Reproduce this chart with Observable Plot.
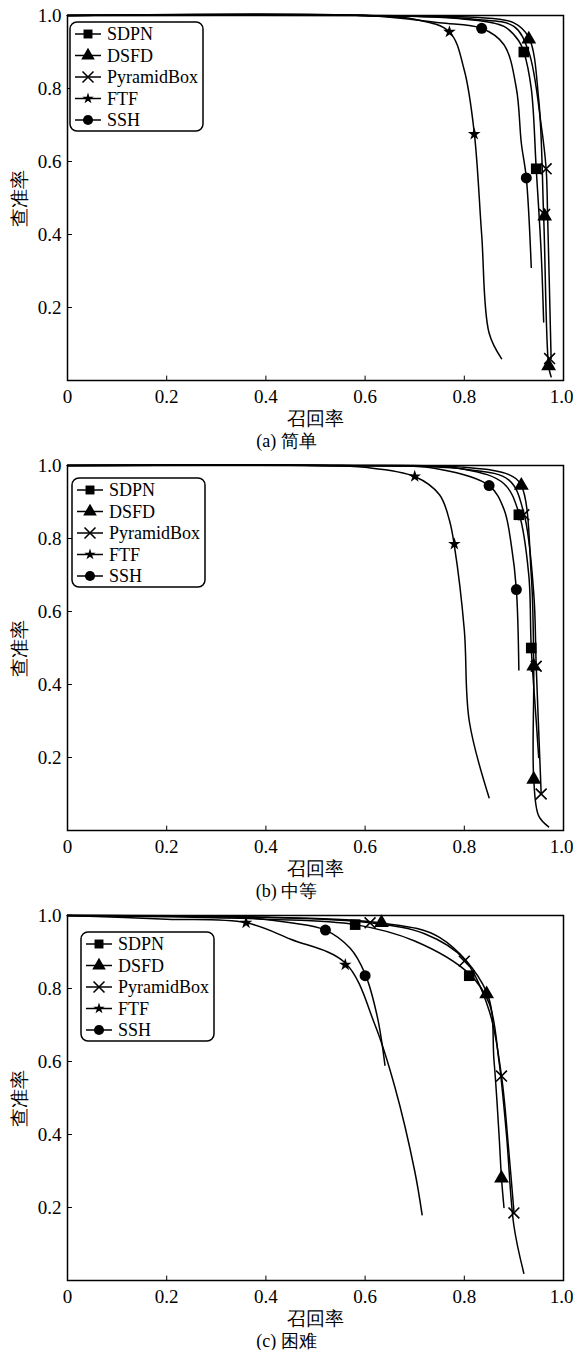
<!DOCTYPE html>
<html><head><meta charset="utf-8">
<script src="https://cdn.jsdelivr.net/npm/d3@7"></script>
<script src="https://cdn.jsdelivr.net/npm/@observablehq/plot@0.6"></script>
<style>
body{margin:0;background:#fff;font-family:"Liberation Serif",serif;}
.cap{text-align:center;font-size:18px;height:18px;line-height:18px;font-family:"Liberation Serif",serif;}
</style></head><body><div id="chart"></div>
<script>
const series = ["SDPN", "DSFD", "PyramidBox", "FTF", "SSH"];
const symbols = ["square", "triangle", "times", "star", "circle"];
const xTicks = [0, 0.2, 0.4, 0.6, 0.8, 1.0];
const yTicks = [0.2, 0.4, 0.6, 0.8, 1.0];
const captions = ["(a) 简单", "(b) 中等", "(c) 困难"];

// curves: [recall, precision]
const easySDPN = [[0,1],[0.6,1],[0.8,0.99],[0.88,0.97],[0.91,0.93],[0.92,0.9],[0.935,0.8],[0.945,0.58],[0.955,0.35],[0.96,0.16]];
const easyDSFD = [[0,1],[0.6,1],[0.82,0.995],[0.9,0.98],[0.93,0.94],[0.95,0.77],[0.96,0.45],[0.97,0.04],[0.975,0.01]];
const easyPyr  = [[0,1],[0.6,1],[0.82,0.99],[0.9,0.97],[0.93,0.9],[0.955,0.7],[0.965,0.58],[0.968,0.45],[0.975,0.06]];
const easyFTF  = [[0,1],[0.6,1],[0.7,0.99],[0.77,0.955],[0.8,0.85],[0.82,0.68],[0.835,0.4],[0.85,0.13],[0.875,0.06]];
const easySSH  = [[0,1],[0.6,1],[0.75,0.98],[0.835,0.965],[0.88,0.92],[0.905,0.8],[0.915,0.65],[0.925,0.555],[0.935,0.31]];
const easyMarks = [[[0.92,0.9],[0.945,0.58]],[[0.93,0.935],[0.962,0.45],[0.97,0.04]],[[0.965,0.58],[0.962,0.455],[0.972,0.06]],[[0.77,0.955],[0.82,0.675]],[[0.835,0.965],[0.925,0.555]]];

const medSDPN = [[0,1],[0.55,1],[0.8,0.99],[0.88,0.95],[0.91,0.87],[0.93,0.7],[0.935,0.5],[0.945,0.3],[0.95,0.2]];
const medDSFD = [[0,1],[0.55,1],[0.8,0.995],[0.89,0.975],[0.915,0.945],[0.935,0.7],[0.94,0.45],[0.94,0.14],[0.95,0.04],[0.97,0.01]];
const medPyr  = [[0,1],[0.55,1],[0.8,0.99],[0.89,0.96],[0.92,0.87],[0.94,0.65],[0.945,0.45],[0.955,0.1]];
const medFTF  = [[0,1],[0.5,1],[0.6,0.995],[0.7,0.97],[0.75,0.92],[0.77,0.85],[0.78,0.78],[0.8,0.55],[0.81,0.3],[0.85,0.09]];
const medSSH  = [[0,1],[0.55,1],[0.75,0.99],[0.85,0.945],[0.88,0.88],[0.895,0.78],[0.905,0.66],[0.91,0.44]];
const medMarks = [[[0.91,0.865],[0.935,0.5]],[[0.915,0.945],[0.94,0.45],[0.94,0.14]],[[0.92,0.865],[0.945,0.45],[0.955,0.1]],[[0.7,0.97],[0.78,0.785]],[[0.85,0.945],[0.905,0.66]]];

const hardSDPN = [[0,1],[0.4,0.99],[0.58,0.975],[0.7,0.93],[0.81,0.84],[0.85,0.76],[0.87,0.6],[0.885,0.4],[0.9,0.15],[0.92,0.02]];
const hardDSFD = [[0,1],[0.4,0.995],[0.63,0.98],[0.75,0.94],[0.845,0.79],[0.86,0.6],[0.87,0.4],[0.875,0.28],[0.88,0.2]];
const hardPyr  = [[0,1],[0.4,0.995],[0.61,0.98],[0.72,0.95],[0.8,0.88],[0.85,0.74],[0.875,0.56],[0.89,0.35],[0.9,0.19]];
const hardFTF  = [[0,1],[0.2,0.99],[0.36,0.98],[0.45,0.935],[0.56,0.87],[0.62,0.7],[0.66,0.53],[0.7,0.3],[0.715,0.18]];
const hardSSH  = [[0,1],[0.35,0.995],[0.45,0.98],[0.52,0.96],[0.57,0.91],[0.6,0.84],[0.625,0.72],[0.64,0.59]];
const hardMarks = [[[0.58,0.975],[0.81,0.835]],[[0.633,0.98],[0.845,0.785],[0.875,0.28]],[[0.61,0.98],[0.8,0.875],[0.875,0.56],[0.9,0.185]],[[0.36,0.98],[0.56,0.865]],[[0.52,0.96],[0.6,0.835]]];

const panels = [
  {curves: [easySDPN, easyDSFD, easyPyr, easyFTF, easySSH], marks: easyMarks, legend: [3, 7]},
  {curves: [medSDPN, medDSFD, medPyr, medFTF, medSSH], marks: medMarks, legend: [5, 13]},
  {curves: [hardSDPN, hardDSFD, hardPyr, hardFTF, hardSSH], marks: hardMarks, legend: [14, 17]}
];
const symSize = {square: 6, triangle: 5.5, times: 5, star: 4, circle: 5.5};
const serif = "Liberation Serif";

const root = d3.select("#chart");
panels.forEach((p, pi) => {
  const lines = p.curves.flatMap((c, i) => c.map(([x, y]) => ({x, y, s: series[i]})));
  const dotMarks = p.marks.map((m, i) => {
    const pts = m.map(([x, y]) => ({x, y}));
    return symbols[i] == "times"
      ? Plot.dot(pts, {x: "x", y: "y", symbol: "times", stroke: "#000", strokeWidth: 1.6, r: symSize.times})
      : Plot.dot(pts, {x: "x", y: "y", symbol: symbols[i], fill: "#000", r: symSize[symbols[i]]});
  });
  const chart = Plot.plot({
    width: 573, height: 432,
    marginTop: 15, marginBottom: 52, marginLeft: 67, marginRight: 10,
    x: {domain: [0, 1], axis: null},
    y: {domain: [0, 1], axis: null},
    marks: [
      Plot.line(lines, {x: "x", y: "y", z: "s", stroke: "#000", strokeWidth: 1.5, curve: "catmull-rom"}),
      ...dotMarks,
      Plot.ruleX(xTicks.slice(1, -1), {y1: 0, y2: 0.012, stroke: "#000"}),
      Plot.ruleY(yTicks.slice(0, -1), {x1: 0, x2: 0.01, stroke: "#000"}),
      Plot.text(xTicks.slice(0, -1), {x: d => d, y: 0, text: d => d == 0 ? "0" : d.toFixed(1), dy: 16,
        fontSize: 19, fontFamily: serif, fill: "#000"}),
      Plot.text(xTicks.slice(-1), {x: d => d, y: 0, text: d => d.toFixed(1), dy: 16, dx: 10, textAnchor: "end",
        fontSize: 19, fontFamily: serif, fill: "#000"}),
      Plot.text(yTicks, {x: 0, y: d => d, text: d => d.toFixed(1), dx: -6, textAnchor: "end",
        fontSize: 19, fontFamily: serif, fill: "#000"}),
      Plot.text(["召回率"], {x: 0.5, y: 0, dy: 38, fontSize: 19, fontFamily: serif, fill: "#000"}),
      Plot.text(["查准率"], {x: 0, y: 0.5, dx: -48, rotate: -90, fontSize: 19, fontFamily: serif, fill: "#000"}),
      Plot.frame({stroke: "#000", strokeWidth: 1.5})
    ]
  });
  const svg = d3.select(chart);
  // legend box
  const g = svg.append("g").attr("transform", `translate(${67 + p.legend[0]},${15 + p.legend[1]})`);
  g.append("rect").attr("width", 133).attr("height", 109).attr("rx", 7)
    .attr("fill", "#fff").attr("stroke", "#000").attr("stroke-width", 1.5);
  const d3sym = {square: d3.symbolSquare, triangle: d3.symbolTriangle, times: d3.symbolTimes, star: d3.symbolStar, circle: d3.symbolCircle};
  series.forEach((s, i) => {
    const y = 12 + i * 21.5;
    g.append("line").attr("x1", 5).attr("x2", 31).attr("y1", y).attr("y2", y).attr("stroke", "#000").attr("stroke-width", 1.5);
    const path = g.append("path").attr("transform", `translate(18,${y})`)
      .attr("d", d3.symbol(d3sym[symbols[i]], symbols[i] == "star" ? 40 : 80)());
    if (symbols[i] == "times") path.attr("fill", "none").attr("stroke", "#000").attr("stroke-width", 1.6);
    else path.attr("fill", "#000");
    g.append("text").attr("x", 37).attr("y", y).attr("dy", "0.35em").attr("text-anchor", "start")
      .style("font-family", serif).style("font-size", "18px").attr("fill", "#000").text(s);
  });
  root.append(() => chart);
  root.append("div").attr("class", "cap").text(captions[pi]);
});
</script></body></html>
